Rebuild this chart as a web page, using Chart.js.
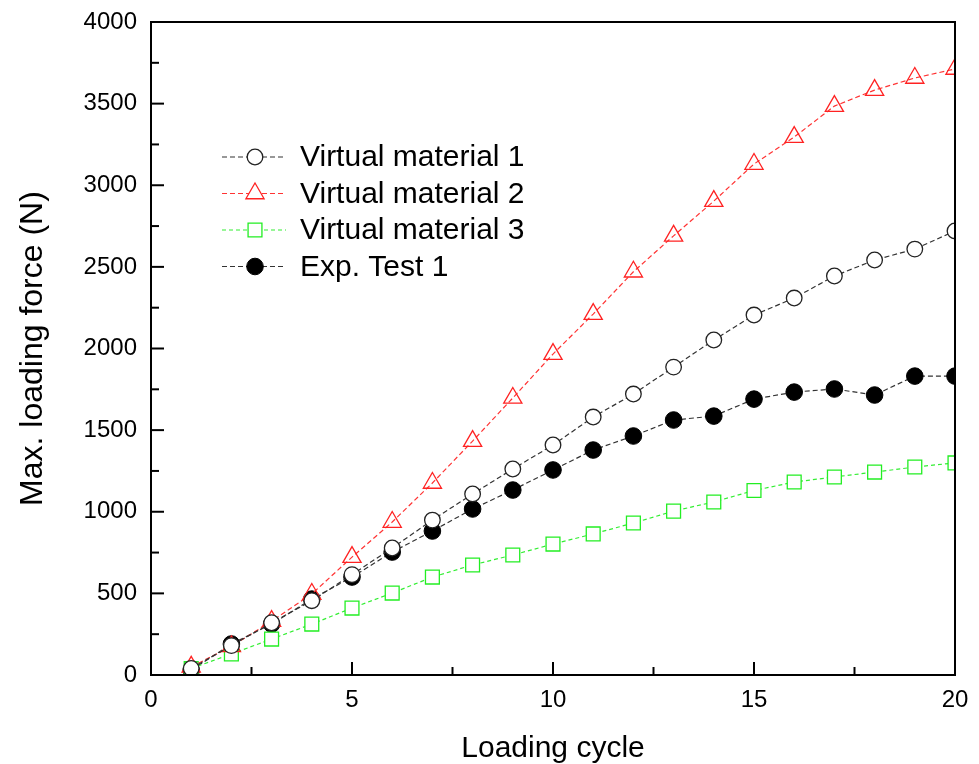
<!DOCTYPE html>
<html>
<head>
<meta charset="utf-8">
<title>Max. loading force vs loading cycle</title>
<script src="https://cdn.jsdelivr.net/npm/chart.js@4.4.1/dist/chart.umd.min.js"></script>
<style>
  html, body { margin: 0; padding: 0; background: #fff; }
  #wrap { width: 979px; height: 764px; }
</style>
</head>
<body>
<div id="wrap"><canvas id="forceChart" width="979" height="764"></canvas></div>
<script>
// loading cycles 1..20
const cycles = [1, 2, 3, 4, 5, 6, 7, 8, 9, 10, 11, 12, 13, 14, 15, 16, 17, 18, 19, 20];

// max. loading force (N) per cycle
const virtual1 = [40, 180, 320, 455, 615, 778, 949, 1109, 1262, 1409, 1580, 1721, 1886, 2052, 2205, 2309, 2444, 2542, 2609, 2720];
const virtual2 = [50, 175, 330, 496, 722, 937, 1176, 1433, 1697, 1966, 2211, 2470, 2690, 2903, 3130, 3295, 3485, 3583, 3657, 3712];
const virtual3 = [40, 129, 220, 312, 410, 502, 600, 674, 735, 802, 864, 931, 1004, 1060, 1130, 1182, 1213, 1243, 1274, 1299];
const expTest1 = [30, 190, 312, 465, 600, 753, 882, 1017, 1133, 1256, 1378, 1464, 1562, 1586, 1690, 1733, 1752, 1715, 1831, 1831];

const seriesNames = ['Virtual material 1', 'Virtual material 2', 'Virtual material 3', 'Exp. Test 1'];

// axis ticks
const xTicks = [0, 5, 10, 15, 20];
const yTicks = [0, 500, 1000, 1500, 2000, 2500, 3000, 3500, 4000];

const sans = "'Liberation Sans', Arial, sans-serif";

function pts(vals) {
  return cycles.map((c, i) => ({ x: c, y: vals[i] }));
}

const datasets = [
  {
    label: seriesNames[0], data: pts(virtual1),
    borderColor: '#333', borderWidth: 1.2, borderDash: [5, 3],
    pointStyle: 'circle', pointRadius: 7.8, pointBorderWidth: 1.3,
    pointBorderColor: '#222', pointBackgroundColor: '#fff'
  },
  {
    label: seriesNames[1], data: pts(virtual2),
    borderColor: '#ff3333', borderWidth: 1.2, borderDash: [5, 3],
    pointStyle: 'triangle', pointRadius: 10.5, pointBorderWidth: 1.3,
    pointBorderColor: '#ff2222', pointBackgroundColor: 'rgba(255,255,255,0)'
  },
  {
    label: seriesNames[2], data: pts(virtual3),
    borderColor: '#33ee33', borderWidth: 1.2, borderDash: [4, 3],
    pointStyle: 'rect', pointRadius: 9.8, pointBorderWidth: 1.3,
    pointBorderColor: '#22ee22', pointBackgroundColor: '#fff'
  },
  {
    label: seriesNames[3], data: pts(expTest1),
    borderColor: '#333', borderWidth: 1.2, borderDash: [5, 3],
    pointStyle: 'circle', pointRadius: 8.3, pointBorderWidth: 1,
    pointBorderColor: '#000', pointBackgroundColor: '#000'
  }
];

function drawMarker(ctx, style, r, x, y) {
  if (style === 'circle') {
    ctx.arc(x, y, r, 0, Math.PI * 2);
  } else if (style === 'rect') {
    const s = Math.SQRT1_2 * r;
    ctx.rect(x - s, y - s, 2 * s, 2 * s);
  } else if (style === 'triangle') {
    ctx.moveTo(x, y - r);
    ctx.lineTo(x + Math.sin(Math.PI / 3) * r, y + r / 2);
    ctx.lineTo(x - Math.sin(Math.PI / 3) * r, y + r / 2);
    ctx.closePath();
  }
}

// box around the plot, inward tick marks and the legend inside the plot
const frameAndLegend = {
  id: 'frameAndLegend',
  afterDraw(chart) {
    const ctx = chart.ctx;
    const a = chart.chartArea;
    const xs = chart.scales.x, ys = chart.scales.y;
    ctx.save();
    ctx.strokeStyle = '#000';
    ctx.lineWidth = 2;
    ctx.setLineDash([]);
    ctx.strokeRect(a.left, a.top, a.right - a.left, a.bottom - a.top);

    // x ticks: major every 5, minor every 2.5
    for (let v = 0; v <= 20; v += 2.5) {
      const px = xs.getPixelForValue(v);
      const len = (v % 5 === 0) ? 13 : 8;
      ctx.beginPath();
      ctx.moveTo(px, a.bottom);
      ctx.lineTo(px, a.bottom - len);
      ctx.stroke();
    }
    // y ticks: major every 500, minor every 250
    for (let v = 0; v <= 4000; v += 250) {
      const py = ys.getPixelForValue(v);
      const len = (v % 500 === 0) ? 13 : 8;
      ctx.beginPath();
      ctx.moveTo(a.left, py);
      ctx.lineTo(a.left + len, py);
      ctx.stroke();
    }

    // legend
    const lx = 222, ly = 157, gap = 36.5;
    chart.data.datasets.forEach((ds, i) => {
      const y = ly + i * gap;
      ctx.strokeStyle = ds.borderColor;
      ctx.lineWidth = ds.borderWidth;
      ctx.setLineDash(ds.borderDash);
      ctx.beginPath();
      ctx.moveTo(lx, y);
      ctx.lineTo(lx + 64, y);
      ctx.stroke();
      ctx.setLineDash([]);
      ctx.fillStyle = ds.pointBackgroundColor === 'rgba(255,255,255,0)' ? '#fff' : ds.pointBackgroundColor;
      ctx.strokeStyle = ds.pointBorderColor;
      ctx.lineWidth = ds.pointBorderWidth;
      ctx.beginPath();
      drawMarker(ctx, ds.pointStyle, ds.pointRadius, lx + 33, y);
      ctx.fill();
      ctx.stroke();
      ctx.fillStyle = '#000';
      ctx.font = "30px " + sans;
      ctx.textBaseline = 'middle';
      ctx.textAlign = 'left';
      ctx.fillText(ds.label, lx + 78, y + 1);
    });
    ctx.restore();
  }
};

new Chart(document.getElementById('forceChart'), {
  type: 'line',
  data: { datasets: datasets },
  options: {
    responsive: false,
    animation: false,
    devicePixelRatio: 1,
    layout: { padding: { top: 22, right: 24, bottom: 0, left: 0 } },
    plugins: {
      legend: { display: false },
      tooltip: { enabled: false }
    },
    scales: {
      x: {
        type: 'linear', min: 0, max: 20,
        afterBuildTicks: s => { s.ticks = xTicks.map(v => ({ value: v })); },
        afterFit: s => { s.height = 89; s.paddingLeft = 0; s.paddingRight = 0; },
        grid: { display: false, drawTicks: false },
        border: { display: false },
        ticks: { color: '#000', padding: 11, font: { family: sans, size: 24 } },
        title: { display: true, text: 'Loading cycle', color: '#000', padding: { top: 0, bottom: 0 }, font: { family: sans, size: 30, lineHeight: 1 } }
      },
      y: {
        type: 'linear', min: 0, max: 4000,
        afterBuildTicks: s => { s.ticks = yTicks.map(v => ({ value: v })); },
        afterFit: s => { s.width = 151; s.paddingTop = 0; s.paddingBottom = 0; },
        grid: { display: false, drawTicks: false },
        border: { display: false },
        ticks: { color: '#000', padding: 14, font: { family: sans, size: 24 }, callback: v => String(v) },
        title: { display: true, text: 'Max. loading force (N)', color: '#000', padding: { top: 14, bottom: 0 }, font: { family: sans, size: 32, lineHeight: 1.2 } }
      }
    }
  },
  plugins: [frameAndLegend]
});
</script>
</body>
</html>
